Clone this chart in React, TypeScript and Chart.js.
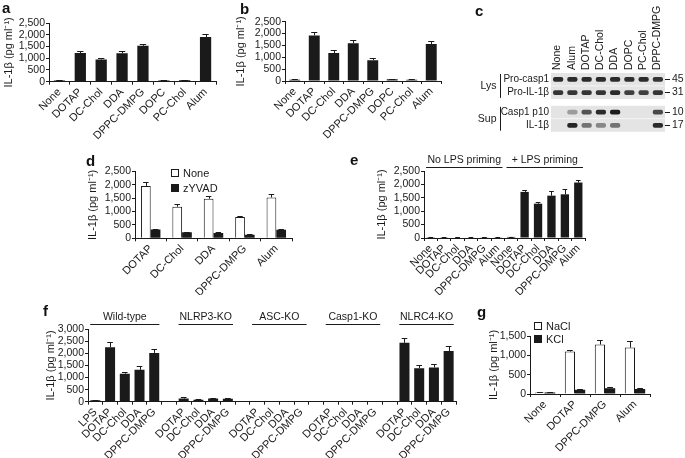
import React, { useEffect, useRef } from 'react';
import { Chart, registerables } from 'chart.js';

Chart.register(...registerables);

const FONT = '"Liberation Sans", Arial, Helvetica, sans-serif';
const INK = '#1a1a1a';
Chart.defaults.font.family = FONT;
Chart.defaults.color = INK;

const Y_TITLE = 'IL-1β (pg ml⁻¹)';

// ---------- tick values ----------
const ticks2500 = [0, 500, 1000, 1500, 2000, 2500];
const ticks3000 = [0, 500, 1000, 1500, 2000, 2500, 3000];
const ticks1500 = [0, 500, 1000, 1500];

// ---------- panel a ----------
const aLabels = ['None', 'DOTAP', 'DC-Chol', 'DDA', 'DPPC-DMPG', 'DOPC', 'PC-Chol', 'Alum'];
const aValues = [50, 1220, 950, 1210, 1530, 50, 60, 1900];
const aErrors = [10, 90, 70, 80, 90, 10, 20, 150];

// ---------- panel b ----------
const bLabels = ['None', 'DOTAP', 'DC-Chol', 'DDA', 'DPPC-DMPG', 'DOPC', 'PC-Chol', 'Alum'];
const bValues = [50, 1920, 1180, 1590, 880, 70, 50, 1560];
const bErrors = [15, 140, 110, 140, 70, 10, 15, 110];

// ---------- panel c (blot) ----------
const blotLanes = ['None', 'Alum', 'DOTAP', 'DC-Chol', 'DDA', 'DOPC', 'PC-Chol', 'DPPC-DMPG'];
const blotRows = ['Pro-casp1', 'Pro-IL-1β', 'Casp1 p10', 'IL-1β'];
const blotMarkers = ['45', '31', '10', '17'];
const blotProCasp1 = [0.9, 0.9, 0.9, 0.9, 0.9, 0.88, 0.9, 0.85];
const blotProIL1b = [0.85, 0.85, 0.85, 0.85, 0.9, 0.8, 0.8, 0.85];
const blotCasp1p10 = [0, 0.35, 0.7, 0.9, 0.97, 0, 0, 0.75];
const blotIL1b = [0, 0.92, 0.55, 0.45, 0.55, 0, 0, 0.9];
const blotGroups = [
  { label: 'Lys', from: 0, to: 1 },
  { label: 'Sup', from: 2, to: 3 },
];

// ---------- panel d ----------
const dLabels = ['DOTAP', 'DC-Chol', 'DDA', 'DPPC-DMPG', 'Alum'];
const dSeriesNames = ['None', 'zYVAD'];
const dNoneValues = [1960, 1180, 1480, 800, 1530];
const dNoneErrors = [160, 90, 110, 40, 130];
const dZyvadValues = [330, 230, 200, 130, 320];
const dZyvadErrors = [30, 20, 20, 40, 30];

// ---------- panel e ----------
const eLabels = ['None', 'DOTAP', 'DC-Chol', 'DDA', 'DPPC-DMPG', 'Alum', 'None', 'DOTAP', 'DC-Chol', 'DDA', 'DPPC-DMPG', 'Alum'];
const eValues = [30, 25, 20, 20, 25, 25, 40, 1720, 1280, 1580, 1630, 2070];
const eErrors = [5, 5, 5, 5, 5, 5, 10, 80, 70, 180, 190, 100];
const eGroups = [
  { label: 'No LPS priming', from: 0, to: 5 },
  { label: '+ LPS priming', from: 6, to: 11 },
];

// ---------- panel f ----------
const fLabels = [
  'LPS', 'DOTAP', 'DC-Chol', 'DDA', 'DPPC-DMPG', '',
  'DOTAP', 'DC-Chol', 'DDA', 'DPPC-DMPG', '',
  'DOTAP', 'DC-Chol', 'DDA', 'DPPC-DMPG', '',
  'DOTAP', 'DC-Chol', 'DDA', 'DPPC-DMPG', '',
  'DOTAP', 'DC-Chol', 'DDA', 'DPPC-DMPG',
];
const fValues = [
  60, 2260, 1160, 1320, 2020, null,
  130, 80, 130, 120, null,
  30, 20, 30, 20, null,
  20, 30, 20, 30, null,
  2440, 1390, 1420, 2100,
];
const fErrors = [
  10, 230, 90, 160, 150, 0,
  50, 15, 20, 20, 0,
  5, 5, 5, 5, 0,
  5, 5, 5, 5, 0,
  200, 130, 160, 200,
];
const fGroups = [
  { label: 'Wild-type', from: 0, to: 4 },
  { label: 'NLRP3-KO', from: 6, to: 9 },
  { label: 'ASC-KO', from: 11, to: 14 },
  { label: 'Casp1-KO', from: 16, to: 19 },
  { label: 'NLRC4-KO', from: 21, to: 24 },
];

// ---------- panel g ----------
const gLabels = ['None', 'DOTAP', 'DPPC-DMPG', 'Alum'];
const gSeriesNames = ['NaCl', 'KCl'];
const gNaClValues = [40, 1100, 1280, 1200];
const gNaClErrors = [10, 50, 120, 180];
const gKClValues = [40, 110, 150, 130];
const gKClErrors = [10, 20, 30, 30];

// ---------- plugins ----------
const errorBarPlugin = {
  id: 'errorBars',
  afterDatasetsDraw(chart: any) {
    const ctx = chart.ctx;
    const y = chart.scales.y;
    chart.data.datasets.forEach((ds: any, i: number) => {
      const errs = ds.errors;
      if (!errs) return;
      const meta = chart.getDatasetMeta(i);
      meta.data.forEach((bar: any, j: number) => {
        const e = errs[j];
        const v = ds.data[j];
        if (!e || v == null) return;
        const top = y.getPixelForValue(v + e);
        const base = y.getPixelForValue(v);
        const half = Math.max(2, bar.width * 0.28);
        ctx.save();
        ctx.strokeStyle = INK;
        ctx.lineWidth = 1;
        ctx.beginPath();
        ctx.moveTo(Math.round(bar.x) + 0.5, base);
        ctx.lineTo(Math.round(bar.x) + 0.5, Math.round(top) + 0.5);
        ctx.moveTo(bar.x - half, Math.round(top) + 0.5);
        ctx.lineTo(bar.x + half, Math.round(top) + 0.5);
        ctx.stroke();
        ctx.restore();
      });
    });
  },
};

const groupLabelPlugin = {
  id: 'groupLabels',
  afterDraw(chart: any, _args: any, opts: any) {
    const groups = opts && opts.groups;
    if (!groups) return;
    const x = chart.scales.x;
    const ctx = chart.ctx;
    const slot = x.getPixelForValue(1) - x.getPixelForValue(0);
    const lineY = Math.round(chart.chartArea.top - opts.gap) + 0.5;
    ctx.save();
    ctx.strokeStyle = INK;
    ctx.fillStyle = INK;
    ctx.lineWidth = 1;
    ctx.font = `10.5px ${FONT}`;
    ctx.textAlign = 'center';
    ctx.textBaseline = 'middle';
    groups.forEach((g: any) => {
      const x0 = x.getPixelForValue(g.from) - slot * 0.35;
      const x1 = x.getPixelForValue(g.to) + slot * 0.35;
      ctx.beginPath();
      ctx.moveTo(x0, lineY);
      ctx.lineTo(x1, lineY);
      ctx.stroke();
      ctx.fillText(g.label, (x0 + x1) / 2, lineY - 7);
    });
    ctx.restore();
  },
};

type Series = { values: (number | null)[]; errors: number[]; white?: boolean };
type Box = { x: number; y: number; w: number; h: number };
type Area = { l: number; r: number; t: number; b: number };

function BarPanel(props: {
  box: Box;
  area: Area;
  labels: string[];
  series: Series[];
  yTicks: number[];
  barPct: number;
  catPct: number;
  groups?: any[];
  groupGap?: number;
}) {
  const ref = useRef<HTMLCanvasElement>(null);
  useEffect(() => {
    const { box, area, labels, series, yTicks, barPct, catPct, groups, groupGap } = props;
    const yw = area.l - box.x;
    const xh = box.y + box.h - area.b;
    const chart = new Chart(ref.current as HTMLCanvasElement, {
      type: 'bar',
      data: {
        labels,
        datasets: series.map((s) => ({
          data: s.values,
          errors: s.errors,
          backgroundColor: s.white ? '#ffffff' : INK,
          borderColor: INK,
          borderWidth: s.white ? 1 : 0,
          barPercentage: barPct,
          categoryPercentage: catPct,
        })) as any,
      },
      options: {
        responsive: false,
        maintainAspectRatio: false,
        animation: false,
        layout: {
          padding: { left: 0, top: area.t - box.y, right: box.x + box.w - area.r, bottom: 0 },
        },
        plugins: {
          legend: { display: false },
          tooltip: { enabled: false },
          groupLabels: { groups, gap: groupGap || 4 },
        } as any,
        scales: {
          x: {
            type: 'category',
            offset: true,
            grid: { display: true, drawOnChartArea: false, drawTicks: true, tickLength: 3, color: INK, offset: true },
            border: { display: true, color: INK, width: 1 },
            ticks: {
              autoSkip: false,
              minRotation: 45,
              maxRotation: 45,
              padding: 1,
              color: INK,
              font: { family: FONT, size: 11 },
            },
            afterFit: (s: any) => {
              s.height = xh;
            },
          },
          y: {
            type: 'linear',
            min: yTicks[0],
            max: yTicks[yTicks.length - 1],
            grid: { display: true, drawOnChartArea: false, drawTicks: true, tickLength: 3, color: INK },
            border: { display: true, color: INK, width: 1 },
            afterBuildTicks: (s: any) => {
              s.ticks = yTicks.map((v) => ({ value: v }));
            },
            ticks: {
              autoSkip: false,
              padding: 1,
              color: INK,
              font: { family: FONT, size: 10.5 },
              callback: (v: any) => Number(v).toLocaleString('en-US'),
            },
            title: {
              display: true,
              text: Y_TITLE,
              color: INK,
              font: { family: FONT, size: 11 },
              padding: { top: 0, bottom: 0 },
            },
            afterFit: (s: any) => {
              s.width = yw;
            },
          },
        } as any,
      },
      plugins: [errorBarPlugin, groupLabelPlugin],
    });
    return () => chart.destroy();
  }, []);
  const { box } = props;
  return (
    <canvas
      ref={ref}
      width={box.w}
      height={box.h}
      style={{ position: 'absolute', left: box.x, top: box.y, width: box.w, height: box.h }}
    />
  );
}

const blotPlugin = {
  id: 'blotDecor',
  beforeDatasetsDraw(chart: any, _a: any, opts: any) {
    const ctx = chart.ctx;
    const y = chart.scales.y;
    const { left, right } = chart.chartArea;
    ctx.save();
    ctx.fillStyle = '#e4e4e4';
    opts.rowStart.forEach((s: number) => {
      const y0 = y.getPixelForValue(s);
      const y1 = y.getPixelForValue(s + 1);
      ctx.fillRect(left, y0, right - left, y1 - y0);
    });
    ctx.restore();
  },
  afterDraw(chart: any, _a: any, opts: any) {
    const ctx = chart.ctx;
    const y = chart.scales.y;
    const left = chart.chartArea.left;
    ctx.save();
    ctx.strokeStyle = INK;
    ctx.fillStyle = INK;
    ctx.lineWidth = 1;
    ctx.font = `10.5px ${FONT}`;
    ctx.textAlign = 'right';
    ctx.textBaseline = 'middle';
    const bx = Math.round(left - 51) + 0.5;
    opts.groups.forEach((g: any) => {
      const y0 = y.getPixelForValue(opts.rowStart[g.from]) + 1;
      const y1 = y.getPixelForValue(opts.rowStart[g.to] + 1) - 1;
      ctx.beginPath();
      ctx.moveTo(bx, y0);
      ctx.lineTo(bx, y1);
      ctx.stroke();
      ctx.fillText(g.label, bx - 4, (y0 + y1) / 2);
    });
    ctx.restore();
  },
};

function BlotPanel() {
  const ref = useRef<HTMLCanvasElement>(null);
  const box = { x: 470, y: 0, w: 215, h: 140 };
  useEffect(() => {
    const area = { l: 551, r: 665, t: 73, b: 133.5 };
    const rowStart = blotRows.map((_, i) => i * 1.05 + (i >= 2 ? 0.5 : 0));
    const centers = rowStart.map((s) => s + 0.5);
    const yMax = rowStart[rowStart.length - 1] + 1;
    const intensities = [blotProCasp1, blotProIL1b, blotCasp1p10, blotIL1b];
    const yAxisBase = {
      type: 'linear',
      reverse: true,
      min: 0,
      max: yMax,
      afterBuildTicks: (s: any) => {
        s.ticks = centers.map((v) => ({ value: v }));
      },
    };
    const chart = new Chart(ref.current as HTMLCanvasElement, {
      type: 'bar',
      data: {
        labels: blotLanes,
        datasets: intensities.map((arr, i) => ({
          data: arr.map(() => [centers[i] - 0.19, centers[i] + 0.19]),
          backgroundColor: arr.map((a) => `rgba(22,22,22,${a})`),
          grouped: false,
          barPercentage: 0.72,
          categoryPercentage: 1,
          borderWidth: 0,
          borderRadius: 2,
          borderSkipped: false,
        })) as any,
      },
      options: {
        responsive: false,
        maintainAspectRatio: false,
        animation: false,
        layout: { padding: { left: 0, right: 0, top: 0, bottom: box.y + box.h - area.b } },
        plugins: {
          legend: { display: false },
          tooltip: { enabled: false },
          blotDecor: { rowStart, groups: blotGroups },
        } as any,
        scales: {
          x: {
            type: 'category',
            position: 'top',
            offset: true,
            grid: { display: false, drawTicks: false },
            border: { display: false },
            ticks: {
              autoSkip: false,
              minRotation: 90,
              maxRotation: 90,
              padding: 3,
              labelOffset: 12,
              color: INK,
              font: { family: FONT, size: 10.5 },
            },
            afterFit: (s: any) => {
              s.height = area.t - box.y;
            },
          },
          y: {
            ...yAxisBase,
            position: 'left',
            grid: { display: false, drawTicks: false },
            border: { display: false },
            ticks: {
              autoSkip: false,
              padding: 2,
              color: INK,
              font: { family: FONT, size: 10 },
              callback: (_v: any, i: number) => blotRows[i],
            },
            afterFit: (s: any) => {
              s.width = area.l - box.x;
            },
          },
          yR: {
            ...yAxisBase,
            position: 'right',
            grid: { display: true, drawOnChartArea: false, drawTicks: true, tickLength: 5, color: INK },
            border: { display: false },
            ticks: {
              autoSkip: false,
              padding: 2,
              color: INK,
              font: { family: FONT, size: 10.5 },
              callback: (_v: any, i: number) => blotMarkers[i],
            },
            afterFit: (s: any) => {
              s.width = box.x + box.w - area.r;
            },
          },
        } as any,
      },
      plugins: [blotPlugin],
    });
    return () => chart.destroy();
  }, []);
  return (
    <canvas
      ref={ref}
      width={box.w}
      height={box.h}
      style={{ position: 'absolute', left: box.x, top: box.y, width: box.w, height: box.h }}
    />
  );
}

function Letter({ x, y, ch }: { x: number; y: number; ch: string }) {
  return (
    <div
      style={{
        position: 'absolute',
        left: x,
        top: y,
        font: `bold 15px ${FONT}`,
        lineHeight: '15px',
        color: '#111',
      }}
    >
      {ch}
    </div>
  );
}

function Legend({ x, y, names, spacing }: { x: number; y: number; names: string[]; spacing: number }) {
  return (
    <div style={{ position: 'absolute', left: x, top: y }}>
      {names.map((n, i) => (
        <div
          key={n}
          style={{ display: 'flex', alignItems: 'center', height: spacing, font: `11px ${FONT}`, color: INK }}
        >
          <span
            style={{
              display: 'inline-block',
              width: 6,
              height: 6,
              border: `1px solid ${INK}`,
              background: i === 0 ? '#fff' : INK,
              marginRight: 4,
            }}
          />
          <span>{n}</span>
        </div>
      ))}
    </div>
  );
}

export default function App() {
  useEffect(() => {
    document.body.style.margin = '0';
    document.body.style.background = '#ffffff';
  }, []);
  return (
    <div style={{ position: 'absolute', left: 0, top: 0, width: 685, height: 458, overflow: 'hidden', background: '#fff' }}>
      <BarPanel
        box={{ x: 2, y: 0, w: 226, h: 150 }}
        area={{ l: 49, r: 216, t: 23, b: 81.7 }}
        labels={aLabels}
        series={[{ values: aValues, errors: aErrors }]}
        yTicks={ticks2500}
        barPct={0.54}
        catPct={1}
      />
      <BarPanel
        box={{ x: 234, y: 0, w: 216, h: 150 }}
        area={{ l: 285, r: 441, t: 21.7, b: 81 }}
        labels={bLabels}
        series={[{ values: bValues, errors: bErrors }]}
        yTicks={ticks2500}
        barPct={0.56}
        catPct={1}
      />
      <BlotPanel />
      <BarPanel
        box={{ x: 86, y: 150, w: 214, h: 145 }}
        area={{ l: 135, r: 292, t: 171.5, b: 238.3 }}
        labels={dLabels}
        series={[
          { values: dNoneValues, errors: dNoneErrors, white: true },
          { values: dZyvadValues, errors: dZyvadErrors },
        ]}
        yTicks={ticks2500}
        barPct={1}
        catPct={0.62}
      />
      <BarPanel
        box={{ x: 375, y: 150, w: 220, h: 145 }}
        area={{ l: 424, r: 585, t: 171, b: 238 }}
        labels={eLabels}
        series={[{ values: eValues, errors: eErrors }]}
        yTicks={ticks2500}
        barPct={0.62}
        catPct={1}
        groups={eGroups}
        groupGap={4}
      />
      <BarPanel
        box={{ x: 44, y: 300, w: 420, h: 158 }}
        area={{ l: 88, r: 456, t: 329.3, b: 401.7 }}
        labels={fLabels}
        series={[{ values: fValues, errors: fErrors }]}
        yTicks={ticks3000}
        barPct={0.68}
        catPct={1}
        groups={fGroups}
        groupGap={5}
      />
      <BarPanel
        box={{ x: 487, y: 305, w: 175, h: 153 }}
        area={{ l: 530, r: 650, t: 336, b: 394 }}
        labels={gLabels}
        series={[
          { values: gNaClValues, errors: gNaClErrors, white: true },
          { values: gKClValues, errors: gKClErrors },
        ]}
        yTicks={ticks1500}
        barPct={1}
        catPct={0.68}
      />
      <Legend x={171} y={165} names={dSeriesNames} spacing={15} />
      <Legend x={534} y={319} names={gSeriesNames} spacing={13} />
      <Letter x={2} y={0} ch="a" />
      <Letter x={240} y={1} ch="b" />
      <Letter x={475} y={3} ch="c" />
      <Letter x={86} y={153} ch="d" />
      <Letter x={350} y={152} ch="e" />
      <Letter x={43} y={303} ch="f" />
      <Letter x={477} y={304} ch="g" />
    </div>
  );
}
